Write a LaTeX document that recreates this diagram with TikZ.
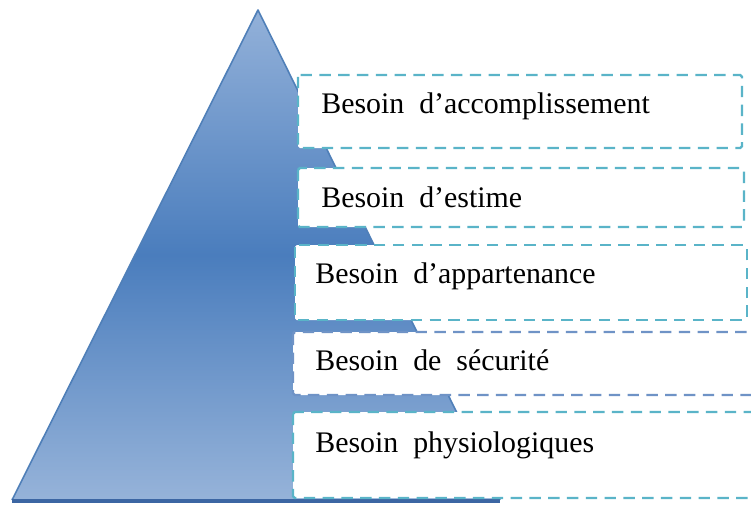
\documentclass[tikz,border=0pt]{standalone}
\usepackage{fontspec}
\setmainfont{Liberation Serif}[WordSpace=2]
\usetikzlibrary{positioning}

\definecolor{pyrtop}{HTML}{93B1D9}
\definecolor{pyrmid}{HTML}{4A7DBD}
\definecolor{pyrbot}{HTML}{96B3D9}
\definecolor{pyredge}{HTML}{4F7FB8}
\definecolor{pyrbase}{HTML}{3C66A3}
\definecolor{boxteal}{HTML}{5AB4C8}
\definecolor{boxblue}{HTML}{6F93C6}

\tikzset{
  levelbox/.style={fill=white, draw=boxteal, line width=1.4pt,
    dash pattern=on 6.5pt off 4.2pt, rounded corners=1pt},
  needtext/.style={anchor=base west, inner sep=0pt,
    font=\fontsize{17}{20}\selectfont}
}

\begin{document}
\begin{tikzpicture}[x=0.02cm, y=-0.02cm]
\useasboundingbox (0,0) rectangle (751,505);
\clip (0,0) rectangle (751,505);
% pyramid
\shade [top color=pyrtop, bottom color=pyrbot, middle color=pyrmid] (258,10) -- (500,500) -- (12,500) -- cycle;
\draw [pyredge, line width=0.9pt, line join=round] (12,500) -- (258,10) -- (500,500);
\draw [pyrbase, line width=1.8pt] (12,501) -- (500,501);
% levels
\draw [levelbox] (298,75) rectangle (742,148);
\draw [levelbox] (298,168) rectangle (744,227);
\draw [levelbox] (295,245) rectangle (747,320);
\draw [levelbox, draw=boxblue] (293,332) rectangle (760,395);
\draw [levelbox] (293,412) rectangle (760,498);
\node (acc) at (321,113) [needtext] {Besoin d’accomplissement};
\node (est) at (321,207) [needtext] {Besoin d’estime};
\node (app) at (315,283) [needtext] {Besoin d’appartenance};
\node (sec) at (315,370) [needtext] {Besoin de sécurité};
\node (phy) at (315,452) [needtext] {Besoin physiologiques};
\end{tikzpicture}
\end{document}
